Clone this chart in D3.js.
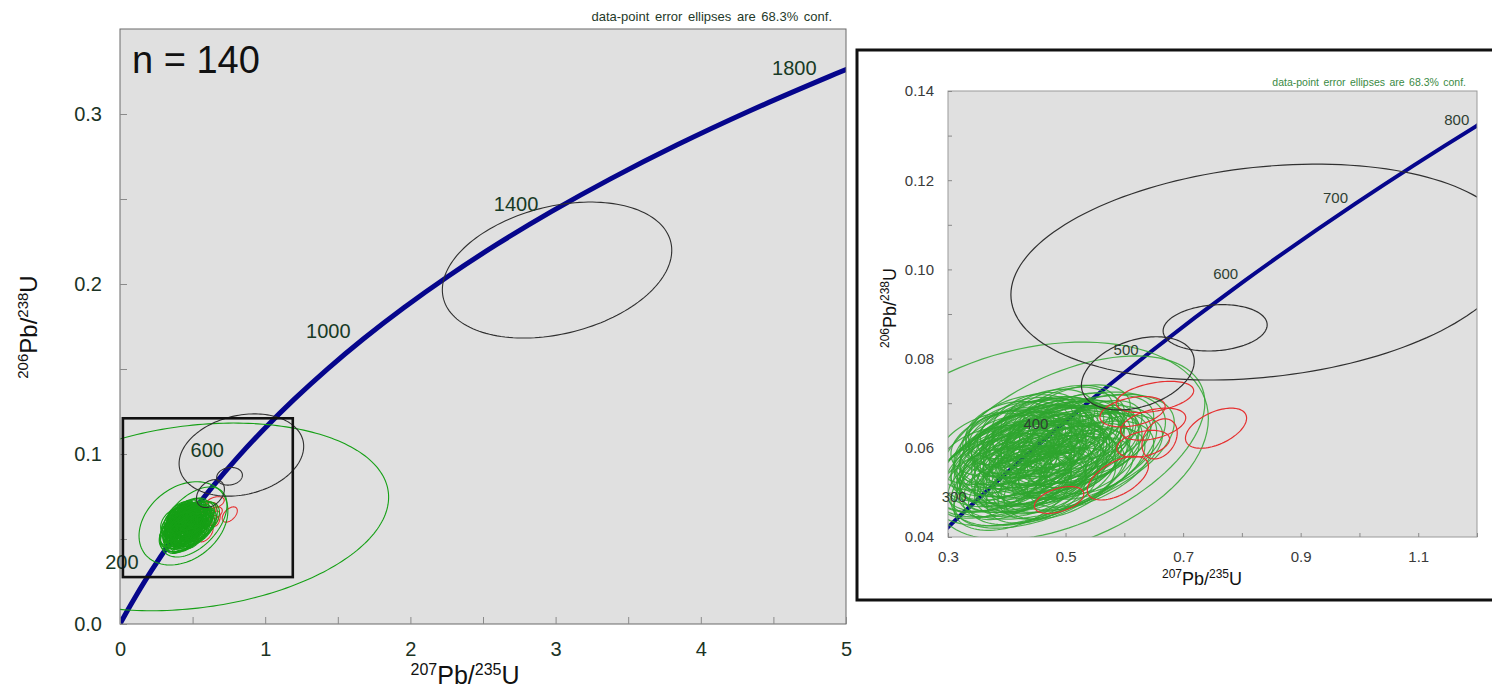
<!DOCTYPE html>
<html>
<head>
<meta charset="utf-8">
<script src="https://cdn.jsdelivr.net/npm/d3@7"></script>
<style>
  html, body { margin: 0; padding: 0; background: #fff; }
  svg { display: block; font-family: "Liberation Sans", Arial, sans-serif; }
</style>
</head>
<body>
<svg id="chart" width="1492" height="688"></svg>
<script>
// ---- Concordia curve (age in Ma, 207Pb/235U, 206Pb/238U) ----
const concordiaAge = [0, 50, 100, 200, 300, 400, 500, 600, 700, 800, 900, 1000, 1100, 1200, 1300, 1400, 1500, 1600, 1700, 1800, 1819];
const concordiaX   = [0, 0.05048, 0.10350, 0.21770, 0.34375, 0.48279, 0.63624, 0.80560, 0.99252, 1.19879, 1.42634, 1.67741, 1.95458, 2.26038, 2.59758, 2.97040, 3.38136, 3.83440, 4.33482, 4.88669, 5.00];
const concordiaY   = [0, 0.00779, 0.01563, 0.03151, 0.04764, 0.06402, 0.08065, 0.09754, 0.11470, 0.13213, 0.14983, 0.16781, 0.18605, 0.20459, 0.22343, 0.24257, 0.26198, 0.28173, 0.30176, 0.32212, 0.32610];

// Age labels along the curve
const mainAgeLabels  = [200, 600, 1000, 1400, 1800];
const insetAgeLabels = [300, 400, 500, 600, 700, 800];

// Axis ticks
const mainXTicks  = [0, 1, 2, 3, 4, 5];
const mainXMinor  = [0.5, 1.5, 2.5, 3.5, 4.5];
const mainYTicks  = [0, 0.1, 0.2, 0.3];
const mainYMinor  = [0.05, 0.15, 0.25];
const insetXTicks = [0.3, 0.5, 0.7, 0.9, 1.1];
const insetXMinor = [0.4, 0.6, 0.8, 1.0, 1.2];
const insetYTicks = [0.04, 0.06, 0.08, 0.10, 0.12, 0.14];
const insetYMinor = [0.05, 0.07, 0.09, 0.11, 0.13];

// Error ellipses: [207Pb/235U, half-width, 206Pb/238U, half-height, rho]
const blackEllipses = [
  [3.010, 0.790, 0.2082, 0.0400, 0.29],
  [0.836, 0.429, 0.0994, 0.0242, 0.21],
  [0.7545, 0.0885, 0.0869, 0.0052, 0.13],
  [0.623, 0.096, 0.0767, 0.0082, 0.33]
];

const redEllipses = [
  [0.756, 0.052, 0.0644, 0.0045, 0.50],
  [0.652, 0.066, 0.0714, 0.0035, 0.40],
  [0.614, 0.0555, 0.0681, 0.0034, 0.35],
  [0.649, 0.0555, 0.0653, 0.0036, 0.40],
  [0.632, 0.045, 0.0609, 0.0030, 0.35],
  [0.589, 0.052, 0.0532, 0.0049, 0.55],
  [0.489, 0.042, 0.0483, 0.0030, 0.45],
  [0.660, 0.030, 0.0620, 0.0045, 0.30]
];

const greenEllipses = [
  [0.420, 0.095, 0.0565, 0.0075, 0.35], [0.455, 0.110, 0.0590, 0.0085, 0.40], [0.475, 0.085, 0.0605, 0.0070, 0.38],
  [0.440, 0.070, 0.0580, 0.0060, 0.30], [0.500, 0.100, 0.0615, 0.0080, 0.42], [0.395, 0.080, 0.0545, 0.0068, 0.33],
  [0.430, 0.120, 0.0570, 0.0095, 0.45], [0.465, 0.065, 0.0625, 0.0055, 0.28], [0.510, 0.090, 0.0635, 0.0072, 0.40],
  [0.385, 0.075, 0.0580, 0.0070, 0.30], [0.450, 0.130, 0.0555, 0.0100, 0.50], [0.480, 0.095, 0.0575, 0.0082, 0.36],
  [0.415, 0.060, 0.0600, 0.0060, 0.25], [0.530, 0.085, 0.0620, 0.0070, 0.45], [0.470, 0.115, 0.0540, 0.0088, 0.40],
  [0.405, 0.105, 0.0525, 0.0080, 0.38], [0.440, 0.090, 0.0635, 0.0072, 0.32], [0.495, 0.075, 0.0550, 0.0065, 0.35],
  [0.370, 0.065, 0.0555, 0.0062, 0.28], [0.460, 0.100, 0.0600, 0.0090, 0.44], [0.425, 0.085, 0.0610, 0.0070, 0.30],
  [0.545, 0.095, 0.0600, 0.0078, 0.48], [0.485, 0.125, 0.0595, 0.0098, 0.46], [0.400, 0.090, 0.0595, 0.0078, 0.34],
  [0.435, 0.075, 0.0530, 0.0068, 0.30], [0.515, 0.110, 0.0570, 0.0086, 0.42], [0.455, 0.080, 0.0645, 0.0066, 0.36],
  [0.390, 0.100, 0.0565, 0.0085, 0.40], [0.475, 0.070, 0.0560, 0.0060, 0.30], [0.520, 0.080, 0.0655, 0.0068, 0.38],
  [0.445, 0.105, 0.0615, 0.0082, 0.40], [0.410, 0.070, 0.0570, 0.0062, 0.32], [0.490, 0.090, 0.0630, 0.0074, 0.35],
  [0.460, 0.140, 0.0580, 0.0110, 0.52], [0.380, 0.085, 0.0530, 0.0072, 0.36], [0.505, 0.065, 0.0590, 0.0058, 0.30],
  [0.430, 0.095, 0.0645, 0.0074, 0.30], [0.470, 0.085, 0.0515, 0.0075, 0.40], [0.555, 0.075, 0.0640, 0.0066, 0.42],
  [0.420, 0.110, 0.0590, 0.0090, 0.42], [0.450, 0.060, 0.0570, 0.0055, 0.26], [0.495, 0.105, 0.0540, 0.0085, 0.45],
  [0.365, 0.080, 0.0575, 0.0070, 0.30], [0.480, 0.075, 0.0650, 0.0064, 0.34], [0.440, 0.100, 0.0550, 0.0080, 0.38],
  [0.530, 0.100, 0.0595, 0.0084, 0.44], [0.405, 0.085, 0.0615, 0.0072, 0.32], [0.465, 0.095, 0.0565, 0.0078, 0.38],
  [0.500, 0.120, 0.0610, 0.0095, 0.48], [0.425, 0.065, 0.0545, 0.0060, 0.28], [0.455, 0.090, 0.0620, 0.0076, 0.36],
  [0.395, 0.070, 0.0505, 0.0066, 0.34], [0.485, 0.080, 0.0585, 0.0068, 0.33], [0.540, 0.110, 0.0630, 0.0088, 0.46],
  [0.435, 0.115, 0.0600, 0.0092, 0.44], [0.470, 0.070, 0.0635, 0.0060, 0.30], [0.415, 0.095, 0.0535, 0.0080, 0.40],
  [0.510, 0.075, 0.0575, 0.0064, 0.36], [0.450, 0.085, 0.0505, 0.0074, 0.38], [0.490, 0.100, 0.0660, 0.0080, 0.40],
  [0.375, 0.095, 0.0600, 0.0082, 0.36], [0.460, 0.075, 0.0595, 0.0064, 0.30], [0.525, 0.090, 0.0545, 0.0078, 0.45],
  [0.445, 0.125, 0.0565, 0.0098, 0.48], [0.400, 0.080, 0.0585, 0.0068, 0.30], [0.475, 0.105, 0.0625, 0.0084, 0.40],
  [0.430, 0.070, 0.0620, 0.0062, 0.28], [0.560, 0.085, 0.0610, 0.0074, 0.46], [0.465, 0.090, 0.0530, 0.0076, 0.40],
  [0.410, 0.115, 0.0560, 0.0092, 0.44], [0.495, 0.070, 0.0605, 0.0060, 0.32], [0.440, 0.080, 0.0600, 0.0068, 0.32],
  [0.385, 0.060, 0.0620, 0.0058, 0.26], [0.515, 0.095, 0.0665, 0.0076, 0.40], [0.455, 0.110, 0.0545, 0.0088, 0.44],
  [0.480, 0.065, 0.0545, 0.0058, 0.32], [0.420, 0.090, 0.0630, 0.0074, 0.32], [0.505, 0.085, 0.0560, 0.0072, 0.40],
  [0.435, 0.100, 0.0510, 0.0082, 0.42], [0.470, 0.120, 0.0610, 0.0094, 0.46], [0.390, 0.085, 0.0555, 0.0072, 0.34],
  [0.535, 0.070, 0.0580, 0.0062, 0.40], [0.450, 0.075, 0.0660, 0.0064, 0.30], [0.425, 0.105, 0.0575, 0.0084, 0.40],
  [0.490, 0.095, 0.0520, 0.0080, 0.44], [0.460, 0.085, 0.0640, 0.0070, 0.34], [0.405, 0.075, 0.0640, 0.0064, 0.28],
  [0.520, 0.105, 0.0605, 0.0086, 0.46], [0.445, 0.065, 0.0535, 0.0060, 0.30], [0.475, 0.100, 0.0580, 0.0080, 0.40],
  [0.380, 0.105, 0.0545, 0.0088, 0.40], [0.500, 0.080, 0.0670, 0.0066, 0.36], [0.430, 0.085, 0.0560, 0.0072, 0.34],
  [0.465, 0.070, 0.0610, 0.0062, 0.30], [0.545, 0.090, 0.0565, 0.0080, 0.48], [0.415, 0.080, 0.0625, 0.0066, 0.30],
  [0.485, 0.110, 0.0560, 0.0088, 0.44], [0.440, 0.095, 0.0525, 0.0080, 0.40], [0.455, 0.065, 0.0605, 0.0056, 0.28],
  [0.510, 0.115, 0.0590, 0.0092, 0.48], [0.395, 0.090, 0.0610, 0.0074, 0.32], [0.470, 0.080, 0.0665, 0.0066, 0.32],
  [0.425, 0.075, 0.0520, 0.0066, 0.34], [0.495, 0.085, 0.0625, 0.0070, 0.38], [0.450, 0.115, 0.0625, 0.0090, 0.42],
  [0.410, 0.100, 0.0500, 0.0085, 0.42], [0.525, 0.075, 0.0625, 0.0064, 0.40], [0.460, 0.095, 0.0550, 0.0078, 0.40],
  [0.435, 0.080, 0.0645, 0.0068, 0.30], [0.480, 0.130, 0.0570, 0.0102, 0.50], [0.370, 0.090, 0.0520, 0.0078, 0.38],
  [0.505, 0.070, 0.0645, 0.0060, 0.34], [0.445, 0.090, 0.0585, 0.0074, 0.36], [0.565, 0.100, 0.0585, 0.0088, 0.50],
  [0.420, 0.075, 0.0595, 0.0064, 0.30], [0.490, 0.105, 0.0600, 0.0084, 0.42], [0.455, 0.140, 0.0600, 0.0110, 0.52],
  [0.435, 0.160, 0.0570, 0.0125, 0.55], [0.480, 0.175, 0.0560, 0.0135, 0.58], [0.470, 0.200, 0.0575, 0.0150, 0.55],
  [0.500, 0.185, 0.0580, 0.0140, 0.55], [0.400, 0.125, 0.0555, 0.0100, 0.48], [0.530, 0.120, 0.0560, 0.0100, 0.50],
  [0.460, 0.150, 0.0535, 0.0115, 0.52],
  [0.506, 0.231, 0.0600, 0.0206, 0.49],
  [0.437, 0.306, 0.0592, 0.0245, 0.30]
];

// Very imprecise grain, shown on the full-range diagram only
const greenWide = [
  [0.50, 1.35, 0.0630, 0.0552, 0.21]
];

// Zoom window outlined on the full-range diagram
const zoomBoxX = [0.02, 1.19];
const zoomBoxY = [0.0276, 0.121];

// ---------------------------------------------------------------
const svg = d3.select("#chart");

const concordia = concordiaAge.map((a, i) => ({ age: a, x: concordiaX[i], y: concordiaY[i] }));

function ellipsePoints(e, n) {
  const [cx, a, cy, b, r] = e;
  const s = Math.sqrt(1 - r * r);
  return d3.range(n).map(i => {
    const t = 2 * Math.PI * i / n;
    return [cx + a * Math.cos(t), cy + b * (r * Math.cos(t) + s * Math.sin(t))];
  });
}

// Text with isotope superscripts, e.g. 207Pb/235U
function isotopeLabel(g, opts) {
  const t = g.append("text")
    .attr("transform", opts.transform)
    .attr("text-anchor", "middle")
    .attr("fill", "#111")
    .style("font-size", opts.size + "px");
  const parts = [[opts.m1, true], ["Pb/", false], [opts.m2, true], ["U", false]];
  parts.forEach(([txt, sup]) => {
    const sp = t.append("tspan").text(txt);
    if (sup) {
      sp.style("font-size", opts.sup + "px").attr("dy", -opts.raise);
    } else {
      sp.attr("dy", opts.raise);
    }
  });
  return t;
}

function drawPanel(cfg) {
  const { x, y, id } = cfg;
  const [x0, x1] = x.range();
  const [y0, y1] = y.range(); // y0 bottom, y1 top
  const g = svg.append("g");

  g.append("rect")
    .attr("x", x0).attr("y", y1)
    .attr("width", x1 - x0).attr("height", y0 - y1)
    .attr("fill", "#e0e0e0");

  svg.append("defs").append("clipPath").attr("id", id)
    .append("rect")
    .attr("x", x0).attr("y", y1)
    .attr("width", x1 - x0).attr("height", y0 - y1);

  const plot = g.append("g").attr("clip-path", `url(#${id})`);

  // concordia
  const curve = d3.line().x(d => x(d.x)).y(d => y(d.y)).curve(d3.curveCatmullRom);
  plot.append("path")
    .datum(concordia)
    .attr("d", curve)
    .attr("fill", "none")
    .attr("stroke", "#06068c")
    .attr("stroke-width", cfg.curveWidth)
    .attr("stroke-linecap", "round");

  const eline = d3.line().x(d => x(d[0])).y(d => y(d[1])).curve(d3.curveLinearClosed);

  const drawSet = (data, color, width, opacity, n) => {
    plot.append("g").selectAll("path")
      .data(data)
      .join("path")
      .attr("d", d => eline(ellipsePoints(d, n)))
      .attr("fill", "none")
      .attr("stroke", color)
      .attr("stroke-width", width)
      .attr("stroke-opacity", opacity);
  };

  // on the full-range view the rejected (red) grains sit beneath the dense cluster
  if (!cfg.redOnTop) drawSet(redEllipses, "#e53030", cfg.ew, 1, 96);
  drawSet(greenEllipses, cfg.green, cfg.ew, cfg.greenOpacity, 96);
  if (cfg.wide) drawSet(greenWide, cfg.green, cfg.ew, 1, 240);
  if (cfg.redOnTop) drawSet(redEllipses, "#e53030", cfg.ew, 1, 96);
  drawSet(blackEllipses, "#303030", cfg.ew, 1, 160);

  // plot frame
  g.append("rect")
    .attr("x", x0).attr("y", y1)
    .attr("width", x1 - x0).attr("height", y0 - y1)
    .attr("fill", "none")
    .attr("stroke", cfg.frame)
    .attr("stroke-width", 1);

  // axes with inward ticks
  const styleAxis = (sel) => {
    sel.select(".domain").remove();
    sel.selectAll(".tick line").attr("stroke", "#8a8a8a");
    sel.selectAll(".tick text")
      .attr("fill", cfg.tickColor)
      .style("font-size", cfg.tickSize + "px")
      .style("font-family", "'Liberation Sans', Arial, sans-serif");
  };

  g.append("g").attr("transform", `translate(0,${y0})`)
    .call(d3.axisBottom(x).tickValues(cfg.xTicks).tickFormat(cfg.xFmt).tickSize(-cfg.tickLen).tickPadding(cfg.xPad))
    .call(styleAxis);
  g.append("g").attr("transform", `translate(0,${y0})`)
    .call(d3.axisBottom(x).tickValues(cfg.xMinor).tickFormat("").tickSize(-cfg.tickLen))
    .call(styleAxis);
  g.append("g").attr("transform", `translate(${x0},0)`)
    .call(d3.axisLeft(y).tickValues(cfg.yTicks).tickFormat(cfg.yFmt).tickSize(-cfg.tickLen).tickPadding(cfg.yPad))
    .call(styleAxis);
  g.append("g").attr("transform", `translate(${x0},0)`)
    .call(d3.axisLeft(y).tickValues(cfg.yMinor).tickFormat("").tickSize(-cfg.tickLen))
    .call(styleAxis);

  // age labels
  g.append("g").selectAll("text")
    .data(concordia.filter(d => cfg.ages.includes(d.age)))
    .join("text")
    .attr("x", d => x(d.x) - cfg.ageDx)
    .attr("y", d => y(d.y) + cfg.ageDy)
    .attr("text-anchor", "end")
    .attr("fill", cfg.ageColor)
    .style("font-size", cfg.ageSize + "px")
    .text(d => d.age);

  return g;
}

// ---- Full-range diagram ----
const xMain = d3.scaleLinear().domain([0, 5]).range([120, 846]);
const yMain = d3.scaleLinear().domain([0, 0.35]).range([624, 29]);

const mainG = drawPanel({
  id: "clipMain", x: xMain, y: yMain, curveWidth: 5, ew: 1.1,
  green: "#16a016", greenOpacity: 1, wide: true, redOnTop: false, frame: "#6a6a6a",
  xTicks: mainXTicks, xMinor: mainXMinor, yTicks: mainYTicks, yMinor: mainYMinor,
  xFmt: d3.format("d"), yFmt: d3.format(".1f"),
  tickLen: 7, xPad: 18, yPad: 18, tickSize: 20, tickColor: "#1b3324",
  ages: mainAgeLabels, ageDx: 13, ageDy: -1, ageSize: 20, ageColor: "#173a25"
});

mainG.append("rect")
  .attr("x", xMain(zoomBoxX[0])).attr("y", yMain(zoomBoxY[1]))
  .attr("width", xMain(zoomBoxX[1]) - xMain(zoomBoxX[0]))
  .attr("height", yMain(zoomBoxY[0]) - yMain(zoomBoxY[1]))
  .attr("fill", "none").attr("stroke", "#111").attr("stroke-width", 2.6);

svg.append("text").attr("x", 132).attr("y", 73)
  .style("font-size", "38px").attr("fill", "#111").text("n = 140");

svg.append("text").attr("x", 832).attr("y", 21).attr("text-anchor", "end")
  .style("font-size", "13px").style("word-spacing", "2px").attr("fill", "#1f3a2a")
  .text("data-point error ellipses are 68.3% conf.");

isotopeLabel(svg, { transform: "translate(465,684)", size: 25, sup: 16, raise: 9, m1: "207", m2: "235" });
isotopeLabel(svg, { transform: "translate(37,327) rotate(-90)", size: 24, sup: 15, raise: 9, m1: "206", m2: "238" });

// ---- Zoomed diagram ----
svg.append("rect").attr("x", 857).attr("y", 50).attr("width", 660).attr("height", 550)
  .attr("fill", "#fff").attr("stroke", "#111").attr("stroke-width", 3);

const xIn = d3.scaleLinear().domain([0.3, 1.2]).range([948, 1477]);
const yIn = d3.scaleLinear().domain([0.04, 0.14]).range([537, 91]);

drawPanel({
  id: "clipInset", x: xIn, y: yIn, curveWidth: 4, ew: 1.2,
  green: "#2fa62f", greenOpacity: 0.85, wide: false, redOnTop: true, frame: "#9a9a9a",
  xTicks: insetXTicks, xMinor: insetXMinor, yTicks: insetYTicks, yMinor: insetYMinor,
  xFmt: d3.format(".1f"), yFmt: d3.format(".2f"),
  tickLen: 4, xPad: 14, yPad: 14, tickSize: 15, tickColor: "#3a3a3a",
  ages: insetAgeLabels, ageDx: 7, ageDy: -1, ageSize: 15, ageColor: "#2f3f33"
});

svg.append("text").attr("x", 1466).attr("y", 86).attr("text-anchor", "end")
  .style("font-size", "10.5px").style("word-spacing", "1.5px").attr("fill", "#3a8a44")
  .text("data-point error ellipses are 68.3% conf.");

isotopeLabel(svg, { transform: "translate(1202,585)", size: 18, sup: 12, raise: 7, m1: "207", m2: "235" });
isotopeLabel(svg, { transform: "translate(896,308) rotate(-90)", size: 18, sup: 12, raise: 7, m1: "206", m2: "238" });
</script>
</body>
</html>
